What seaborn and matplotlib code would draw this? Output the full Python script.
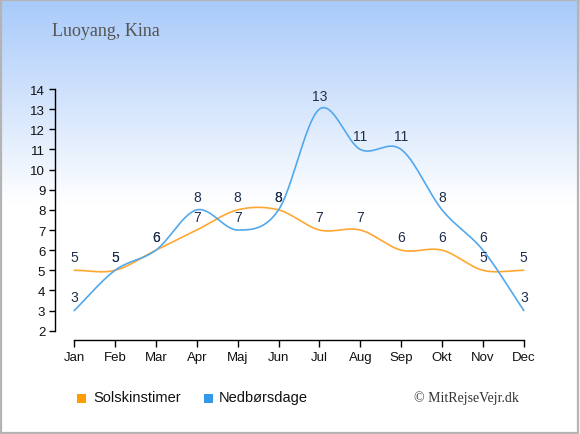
import numpy as np
import pandas as pd
import matplotlib
matplotlib.use("Agg")
import matplotlib.pyplot as plt
from matplotlib.patches import Rectangle
import seaborn as sns

months = ["Jan", "Feb", "Mar", "Apr", "Maj", "Jun", "Jul", "Aug", "Sep", "Okt", "Nov", "Dec"]
sun_hours = [5, 5, 6, 7, 8, 8, 7, 7, 6, 6, 5, 5]
rain_days = [3, 5, 6, 8, 7, 8, 13, 11, 11, 8, 6, 3]
y_ticks = list(range(2, 15))
title = "Luoyang, Kina"
series_names = ["Solskinstimer", "Nedbørsdage"]
credit = "© MitRejseVejr.dk"

ORANGE_LINE = "#ffa733"
BLUE_LINE = "#52a8ec"
ORANGE_BOX = "#ff9c00"
BLUE_BOX = "#3399e8"
LABEL_COL = "#1f2e4d"

sns.set_theme(style="white")
plt.rcParams["font.family"] = ["Liberation Sans", "DejaVu Sans"]

W, H, DPI = 580, 435, 100
fig = plt.figure(figsize=(W / DPI, H / DPI), dpi=DPI)

# background gradient
bg = fig.add_axes([0, 0, 1, 1], zorder=-10)
bg.set_axis_off()
rows = np.linspace(0, 1, H)
t = np.clip(rows / (205 / H), 0, 1)
top = np.array([168, 202, 250]) / 255.0
white = np.ones(3)
grad = (top[None, :] * (1 - t[:, None]) + white[None, :] * t[:, None])
img = np.repeat(grad[:, None, :], 4, axis=1)
bg.imshow(img, aspect="auto", extent=[0, 1, 0, 1], origin="upper")
bg.set_xlim(0, 1)
bg.set_ylim(0, 1)
bg.add_patch(Rectangle((0.0015, 0.002), 0.995, 0.995, transform=bg.transAxes,
                       fill=False, edgecolor="#b4b4b4", linewidth=1.6))


def smooth(xs, ys, n=30):
    xs = np.asarray(xs, float)
    ys = np.asarray(ys, float)
    m = np.zeros_like(ys)
    m[1:-1] = (ys[2:] - ys[:-2]) / 2.0
    m[0] = ys[1] - ys[0]
    m[-1] = ys[-1] - ys[-2]
    ox, oy = [], []
    for i in range(len(xs) - 1):
        tt = np.linspace(0, 1, n, endpoint=(i == len(xs) - 2))
        h00 = 2 * tt**3 - 3 * tt**2 + 1
        h10 = tt**3 - 2 * tt**2 + tt
        h01 = -2 * tt**3 + 3 * tt**2
        h11 = tt**3 - tt**2
        ox.extend(xs[i] + tt * (xs[i + 1] - xs[i]))
        oy.extend(h00 * ys[i] + h10 * m[i] + h01 * ys[i + 1] + h11 * m[i + 1])
    return np.array(ox), np.array(oy)


left_px, right_px, top_px, bot_px = 55, 543, 90, 341
ax = fig.add_axes([left_px / W, 1 - bot_px / H, (right_px - left_px) / W, (bot_px - top_px) / H])
ax.patch.set_alpha(0)

x_idx = np.arange(len(months))
for vals, col, name in [(sun_hours, ORANGE_LINE, series_names[0]), (rain_days, BLUE_LINE, series_names[1])]:
    sx, sy = smooth(x_idx, vals)
    df = pd.DataFrame({"x": sx, "y": sy})
    sns.lineplot(data=df, x="x", y="y", ax=ax, color=col, linewidth=1.2, sort=False, estimator=None)

for vals in (sun_hours, rain_days):
    for i, v in enumerate(vals):
        ax.annotate(str(v), (i, v), xytext=(0, 9.5), textcoords="offset points",
                    ha="center", va="center", fontsize=10, color=LABEL_COL)

ax.set_xlim(-0.47, 11.47)
ax.set_ylim(1.54, 14)
ax.set_xticks(x_idx)
ax.set_xticklabels(months)
ax.set_yticks(y_ticks)
ax.set_xlabel("")
ax.set_ylabel("")
for s in ("top", "right"):
    ax.spines[s].set_visible(False)
ax.spines["left"].set_bounds(2, 14)
ax.spines["bottom"].set_bounds(0, 11)
for s in ("left", "bottom"):
    ax.spines[s].set_color("black")
    ax.spines[s].set_linewidth(1.0)
ax.tick_params(axis="both", which="both", direction="out", length=4, width=1,
               color="black", labelsize=9.5, labelcolor="#111111", pad=3,
               left=True, bottom=True)
ax.tick_params(axis="x", length=5, pad=3)
ax.grid(False)

# title
fig.text(52 / W, 1 - 32 / H, title, fontsize=13, color="#555555",
         family=["Liberation Serif", "DejaVu Serif"], ha="left", va="center")

# legend
for (xb, col, xt, name) in [(77, ORANGE_BOX, 93, series_names[0]), (204, BLUE_BOX, 219, series_names[1])]:
    fig.patches.append(Rectangle((xb / W, 1 - 404 / H), 9 / W, 9 / H, transform=fig.transFigure,
                                 facecolor=col, edgecolor="none"))
    fig.text(xt / W, 1 - 398 / H, name, fontsize=10.5, color="#111111", ha="left", va="center")

fig.text(519 / W, 1 - 398 / H, credit, fontsize=10, color="#333333",
         family=["Liberation Serif", "DejaVu Serif"], ha="right", va="center")

fig.savefig("out.png", dpi=DPI)
